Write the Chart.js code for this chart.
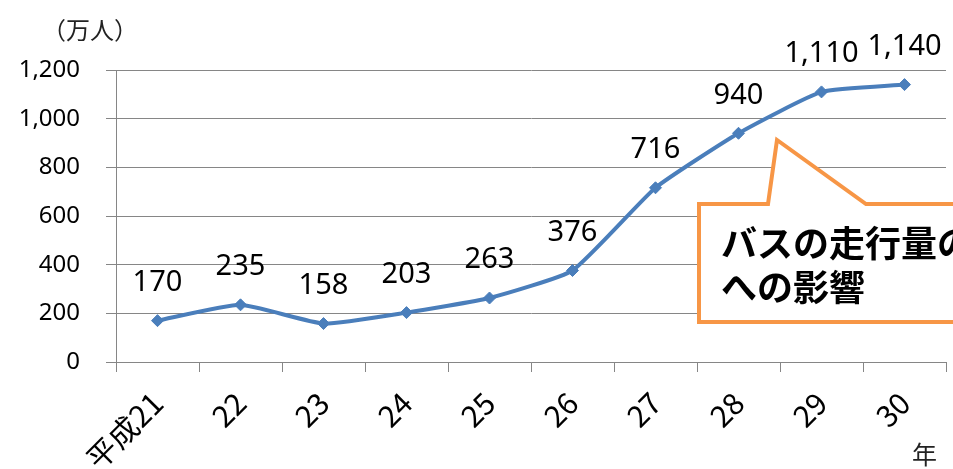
<!DOCTYPE html>
<html><head><meta charset="utf-8">
<script src="https://cdn.jsdelivr.net/npm/chart.js@4/dist/chart.umd.min.js"></script>
<style>html,body{margin:0;padding:0;background:#fff}#wrap{width:953px;height:469px;position:relative}</style>
</head><body><div id="wrap"><canvas id="c" width="953" height="469"></canvas></div>
<script>
const categories = ["平成21","22","23","24","25","26","27","28","29","30"];
const values = [170,235,158,203,263,376,716,940,1110,1140];
const dataLabels = ["170","235","158","203","263","376","716","940","1,110","1,140"];
const yTicks = [0,200,400,600,800,1000,1200];
const unitLabel = "（万人）";
const yearLabel = "年";
const calloutLines = ["バスの走行量の","への影響"];

const extras = {
  id:'extras',
  afterDatasetsDraw(chart){
    const ctx = chart.ctx;
    const meta = chart.getDatasetMeta(0);
    ctx.save();
    ctx.font = '29px "Noto Sans"';
    ctx.fillStyle = '#000';
    ctx.textAlign = 'center';
    ctx.textBaseline = 'middle';
    meta.data.forEach((p,i)=>{ ctx.fillText(dataLabels[i], p.x, p.y - 38); });
    ctx.restore();
  },
  afterDraw(chart){
    const ctx = chart.ctx;
    ctx.save();
    ctx.font = '24px "Noto Sans CJK JP"';
    ctx.fillStyle = '#222';
    ctx.textAlign = 'left';
    ctx.textBaseline = 'middle';
    ctx.fillText(unitLabel, 42, 30);
    ctx.font = '25px "Noto Sans CJK JP"';
    ctx.fillText(yearLabel, 912, 454);
    // callout
    ctx.beginPath();
    ctx.moveTo(699,204);
    ctx.lineTo(768,204);
    ctx.lineTo(777,140);
    ctx.lineTo(866,204);
    ctx.lineTo(965,204);
    ctx.lineTo(965,322);
    ctx.lineTo(699,322);
    ctx.closePath();
    ctx.fillStyle = '#fff';
    ctx.fill();
    ctx.lineWidth = 4;
    ctx.strokeStyle = '#F79646';
    ctx.lineJoin = 'miter';
    ctx.stroke();
    ctx.fillStyle = '#000';
    ctx.font = 'bold 36px "Noto Sans CJK JP"';
    ctx.fillText(calloutLines[0], 721, 243);
    ctx.fillText(calloutLines[1], 721, 287);
    ctx.restore();
  }
};

new Chart(document.getElementById('c'), {
  type:'line',
  data:{ labels:categories, datasets:[{
    data:values,
    borderColor:'#4A7EBB', backgroundColor:'#4A7EBB',
    borderWidth:4, tension:0.15,
    pointStyle:'rectRot', pointRadius:6, pointHoverRadius:6,
    pointBackgroundColor:'#4A7EBB', pointBorderColor:'#4A7EBB', pointBorderWidth:1
  }]},
  options:{
    responsive:false, animation:false,
    layout:{padding:{top:70,right:1,left:0,bottom:0}},
    plugins:{legend:{display:false}, tooltip:{enabled:false}},
    scales:{
      x:{
        offset:true,
        grid:{offset:true, drawOnChartArea:false, drawTicks:true, tickLength:10, color:'#868686'},
        border:{color:'#868686', width:1},
        ticks:{color:'#000', font:{family:'"Noto Sans CJK JP"', size:30}, minRotation:45, maxRotation:45, padding:13, autoSkip:false},
        afterFit(s){ s.height = 107; }
      },
      y:{
        min:0, max:1200,
        afterBuildTicks(s){ s.ticks = yTicks.map(v=>({value:v})); },
        grid:{color:'#868686', tickLength:10, lineWidth:1},
        border:{color:'#868686', width:1},
        ticks:{color:'#000', font:{family:'"Noto Sans"', size:24}, padding:26,
          callback:(v)=>v.toLocaleString('en-US')},
        afterFit(s){ s.width = 116; }
      }
    }
  },
  plugins:[extras]
});
</script></body></html>
